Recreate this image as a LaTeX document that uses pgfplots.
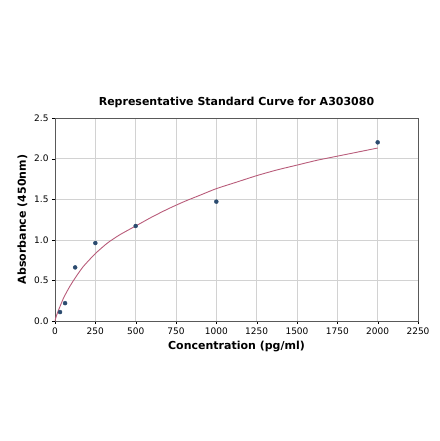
\documentclass[border=0pt]{standalone}
\usepackage{fontspec}
\setmainfont{DejaVu Sans}
\usepackage{pgfplots}
\pgfplotsset{compat=1.18}

\definecolor{fitline}{HTML}{B85C7A}
\definecolor{pointc}{HTML}{2B4B6F}

\begin{document}
\begin{tikzpicture}
\useasboundingbox (-55bp,-120bp) rectangle (385bp,321bp);
\begin{axis}[
    at={(0,0)}, anchor=south west,
    width=363bp, height=203bp,
    scale only axis,
    xmin=0, xmax=2250, ymin=0, ymax=2.5,
    xtick={0,250,...,2250},
    ytick={0,0.5,...,2.5},
    xticklabel style={/pgf/number format/.cd,1000 sep={}},
    yticklabel style={/pgf/number format/.cd,fixed,fixed zerofill,precision=1},
    /pgf/number format/assume math mode=true,
    scaled x ticks=false,
    grid=major,
    grid style={gray!35, line width=0.6pt},
    axis line style={gray!70!black, line width=0.6pt},
    tick align=outside,
    tick pos=left,
    major tick length=3bp,
    tick style={black},
    ticklabel style={font=\fontsize{9bp}{10bp}\selectfont},
    xlabel={\textbf{Concentration (pg/ml)}},
    ylabel={\textbf{Absorbance (450nm)}},
    label style={font=\fontsize{11bp}{13bp}\selectfont},
    title={\textbf{Representative Standard Curve for A303080}},
    title style={font=\fontsize{11bp}{13bp}\selectfont, yshift=1bp},
]
\addplot[fitline, line width=0.9pt, smooth, tension=0.4] coordinates {
    (0,0) (5,0.04) (15,0.10) (31.25,0.18) (50,0.27) (62.5,0.32)
    (90,0.42) (125,0.53) (175,0.67) (250,0.83) (325,0.96) (400,1.06)
    (500,1.17) (600,1.28) (700,1.38) (800,1.47) (900,1.55) (1000,1.63)
    (1125,1.71) (1250,1.79) (1375,1.86) (1500,1.92) (1625,1.98)
    (1750,2.03) (1875,2.08) (2000,2.13)
};
\addplot[only marks, mark=*, mark size=2pt, draw=pointc, fill=pointc] coordinates {
    (31.25,0.11) (62.5,0.22) (125,0.66) (250,0.96)
    (500,1.17) (1000,1.47) (2000,2.20)
};
\end{axis}
\end{tikzpicture}
\end{document}
